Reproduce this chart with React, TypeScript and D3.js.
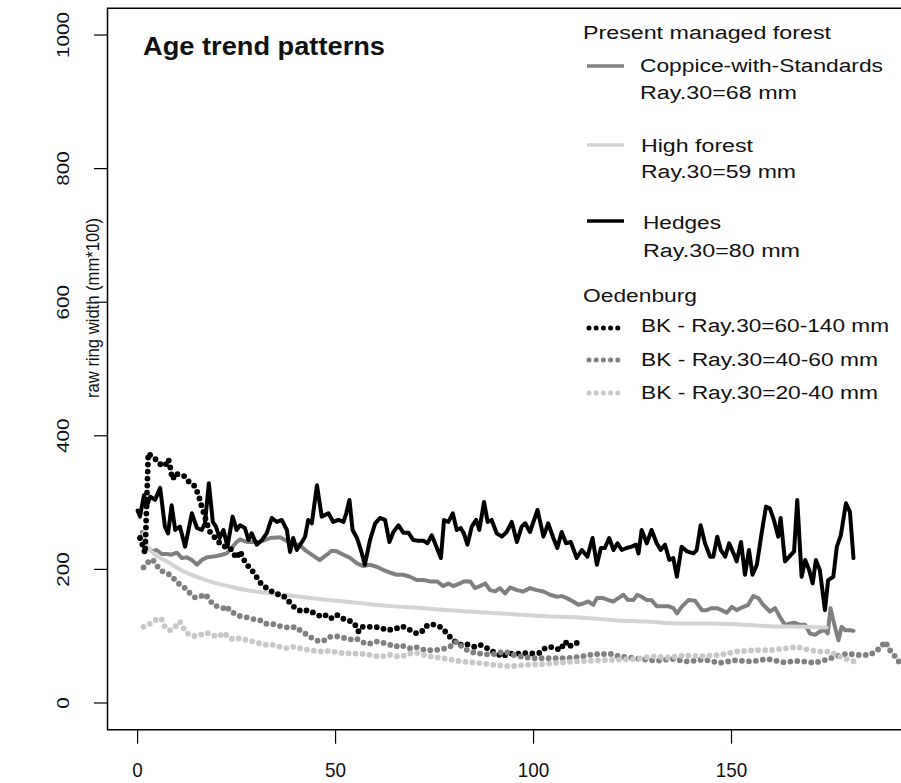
import * as d3 from 'd3'

const WIDTH = 901
const HEIGHT = 783
const PLOT = { left: 107.5, right: 920, top: 8.3, bottom: 729.7 }
const FONT = '"Liberation Sans", Arial, sans-serif'

const xTicks = [0, 50, 100, 150]
const yTicks = [0, 200, 400, 600, 800, 1000]

// present managed forest, [age, raw ring width]
const coppicePts = [
  [1.1, 256], [2.3, 234], [3.6, 227], [4.8, 229], [6.1, 223], [7.4, 223], [8.6, 222], [9.9, 225],
  [11.2, 217], [12.4, 218], [13.7, 214], [15, 207], [16.2, 214], [17.5, 218], [18.7, 219], [20, 220],
  [21.3, 222], [22.5, 224], [23.8, 232], [25, 241], [25.9, 245], [27.6, 241], [30.9, 241], [33.5, 247],
  [36, 248], [38.1, 241], [41, 236], [42.3, 229], [43.5, 224], [46, 214], [47.8, 222], [49, 228],
  [50.3, 227], [52, 222], [53.7, 217], [55.4, 209], [57, 205], [58.7, 207], [60.4, 204], [62.1, 199],
  [63.8, 195], [65.5, 192], [67.1, 192], [68.8, 189], [70.5, 184], [72.2, 184], [73.9, 182], [75.6, 182],
  [77.2, 175], [78.5, 179], [79.7, 175], [81.4, 179], [82.3, 182], [84, 182], [85.2, 172], [86.5, 175],
  [87.8, 179], [89, 169], [90.3, 167], [91.5, 172], [92.8, 164], [94.1, 173], [95.8, 169], [97.4, 167],
  [99.1, 172], [100.8, 169], [102.5, 167], [104.2, 162], [105.9, 159], [107.1, 160], [108.4, 157], [110, 152],
  [111.3, 147], [112.6, 149], [113.8, 152], [115.1, 147], [116, 157], [117.6, 157], [118.9, 154], [120.2, 152],
  [121.4, 157], [122.7, 162], [123.9, 154], [125.2, 154], [126.2, 162], [127.3, 159], [128.6, 154], [129.8, 154],
  [131.1, 145], [132.4, 145], [134, 145], [135.3, 142], [136.2, 134], [137.4, 144], [139.1, 154], [140.8, 153],
  [142.5, 139], [143.7, 139], [145, 142], [146.3, 142], [147.5, 139], [148.8, 135], [150.1, 144], [151.3, 139],
  [153, 144], [154.2, 147], [155.5, 160], [156.8, 157], [158, 147], [159.7, 137], [161, 142], [162.2, 129],
  [163.5, 117], [164.8, 119], [166, 120], [167.3, 117], [168.6, 117], [169.8, 104], [171.1, 102], [172.3, 107],
  [173.6, 109], [174.3, 104], [175, 142], [176.1, 114], [177, 94], [177.8, 114], [178.7, 109], [179.9, 109],
  [180.8, 108],
]

const highForestPts = [
  [1.5, 254], [2.3, 237], [4, 224], [7.4, 212], [11.6, 197], [15.8, 187], [20, 179], [24.2, 173],
  [28.4, 168], [32.6, 165], [36.8, 162], [41, 159], [46.9, 155], [55.4, 150], [63.8, 145], [72.2, 142],
  [80.6, 138], [89, 135], [94.9, 133], [103.3, 130], [111.7, 128], [120.2, 124], [128.6, 122], [137, 119],
  [142.9, 119], [151.3, 118], [159.7, 115], [168.1, 114], [174, 113],
]

const hedgesPts = [
  [0, 288], [0.6, 279], [1.6, 311], [2.3, 294], [3.2, 309], [4.4, 304], [5.7, 322], [6.9, 264],
  [7.7, 254], [8.6, 296], [9.5, 259], [10.7, 264], [12, 234], [13.7, 284], [15, 262], [16.2, 259],
  [17, 269], [18, 329], [19, 271], [19.8, 264], [20.7, 247], [21.7, 259], [22.7, 234], [24, 279],
  [25, 259], [25.9, 266], [27.1, 262], [28, 244], [28.8, 254], [30.1, 237], [31.4, 244], [32.6, 254],
  [33.9, 277], [35.2, 271], [36.4, 274], [37.7, 259], [38.5, 226], [39.3, 247], [40.2, 229], [41.5, 241],
  [42.3, 249], [43.1, 274], [44, 269], [45.3, 326], [46.5, 279], [48.2, 284], [49.4, 271], [50.7, 274],
  [52, 271], [52.7, 284], [53.5, 304], [54.3, 259], [55.4, 247], [56.4, 229], [57.4, 207], [58.7, 244],
  [60, 269], [61.2, 277], [62.5, 274], [63.6, 241], [64.6, 256], [65.9, 266], [67.1, 255], [68.4, 255],
  [69.6, 244], [70.9, 243], [72.2, 243], [73.2, 239], [74.3, 251], [75.6, 232], [76.6, 217], [77.4, 274],
  [78.5, 271], [79.6, 284], [80.6, 259], [81.6, 262], [82.4, 254], [83.3, 237], [84.4, 264], [85.5, 274],
  [86.3, 259], [87.5, 301], [88.4, 271], [89.4, 274], [90.7, 254], [92, 249], [93.2, 256], [94.5, 271],
  [95.8, 241], [97, 264], [97.9, 269], [99.1, 256], [101, 289], [102.5, 249], [103.7, 269], [105, 247],
  [106, 232], [107.1, 256], [108.2, 239], [109.4, 241], [110.9, 217], [112.2, 229], [113.6, 219], [114.9, 247],
  [116, 207], [117, 232], [118, 232], [119.1, 247], [120.2, 229], [121.2, 239], [122.3, 229], [123.5, 232],
  [124.8, 234], [125.9, 237], [126.5, 224], [127.3, 259], [128.6, 239], [129.8, 259], [131.1, 239], [132.1, 229],
  [133.2, 237], [134.3, 214], [135.3, 217], [136.2, 189], [137.4, 234], [138.7, 227], [140.4, 224], [141.2, 229],
  [142.2, 266], [143.3, 239], [144.6, 219], [145.4, 219], [146.4, 249], [147.3, 229], [148.4, 219], [149.4, 239],
  [150.5, 224], [151.3, 212], [152.4, 241], [153.4, 192], [154.4, 229], [155.3, 192], [156.4, 207], [157.6, 254],
  [158.7, 294], [159.7, 291], [160.7, 274], [161.8, 249], [162.4, 277], [163.5, 212], [164.6, 219], [165.8, 227],
  [166.6, 304], [167.7, 189], [168.6, 214], [169.6, 199], [170.5, 179], [171.3, 214], [172.3, 199], [173.6, 139],
  [174.4, 184], [175.7, 189], [176.6, 234], [177.6, 251], [178.9, 299], [179.9, 286], [180.8, 217],
]

// Oedenburg archaeological wood (BK)
const bk60Pts = [
  [0.6, 247], [1.1, 239], [1.9, 224], [2.7, 374], [3.6, 369], [4.4, 366], [5.3, 359], [6.1, 356],
  [6.9, 355], [7.8, 365], [8.2, 354], [8.6, 341], [8.9, 335], [9.5, 344], [10.7, 341], [11.7, 340],
  [12.8, 332], [13.7, 329], [14.5, 324], [15.4, 311], [16.2, 294], [17, 279], [17.5, 269], [18.3, 256],
  [19.6, 247], [20.8, 239], [22.1, 234], [23.4, 232], [24.2, 224], [25, 217], [25.9, 227], [26.6, 217],
  [27.6, 207], [28.6, 201], [29.7, 192], [30.5, 184], [31.4, 177], [32.6, 172], [33.9, 167], [35.2, 163],
  [36.4, 162], [37.5, 157], [38.5, 150], [39.8, 142], [41.5, 137], [43.1, 139], [44.8, 134], [46.5, 129],
  [47.8, 132], [49, 127], [50.3, 132], [51.6, 127], [52.8, 124], [54.1, 122], [55.4, 114], [55.8, 107],
  [56.6, 114], [58.3, 114], [60, 114], [61.7, 112], [62.9, 109], [64.2, 110], [65.5, 112], [66.7, 115],
  [68, 112], [69.2, 108], [70.5, 104], [71.8, 107], [72.6, 114], [73.9, 118], [75.1, 117], [76.4, 114],
  [77.7, 107], [78.9, 99], [80.2, 92], [81.4, 87], [82.7, 89], [84, 86], [85.2, 84], [86.5, 87],
  [87.8, 84], [89, 79], [90.7, 74], [92.4, 69], [93.2, 74], [94.9, 74], [96.6, 74], [98.3, 75],
  [100, 74], [101.6, 75], [102.9, 82], [104.2, 84], [105.7, 82], [106.7, 79], [108, 92], [109, 84],
  [110, 89], [111, 90],
]

const bk40Pts = [
  [1.5, 203], [2.7, 211], [3.8, 215], [4.7, 207], [5.7, 199], [6.9, 195], [8.2, 192], [9.5, 184],
  [10.7, 177], [12, 172], [13.3, 164], [14.5, 158], [15.8, 159], [17, 163], [17.9, 157], [19.1, 147],
  [20.4, 144], [21.7, 142], [22.5, 145], [23.4, 137], [24.6, 134], [25.9, 130], [27.1, 129], [28.4, 127],
  [29.7, 125], [30.9, 124], [32.2, 119], [33.5, 118], [34.7, 118], [36, 115], [37.2, 114], [38.5, 112],
  [39.8, 114], [41, 109], [42.3, 104], [43.5, 99], [44.8, 95], [46, 92], [47.3, 94], [48.6, 99],
  [49.8, 100], [51.1, 99], [52.4, 97], [53.7, 95], [54.9, 97], [56.2, 94], [57.4, 89], [58.7, 89],
  [60, 92], [61.2, 92], [62.5, 89], [63.8, 87], [65, 84], [66.3, 87], [67.6, 84], [68.8, 82],
  [70.1, 84], [71.3, 82], [72.6, 79], [73.9, 79], [75.1, 79], [78.1, 82], [79.7, 87], [80.6, 92],
  [82.3, 82], [84, 77], [85.7, 74], [87.3, 74], [89, 72], [92.8, 77], [94.9, 72], [97.4, 69],
  [99.9, 67], [102.5, 67], [108.4, 67], [111.7, 69], [114.3, 72], [115.5, 74], [116.8, 72], [118.5, 74],
  [120.2, 73], [121.8, 69], [123.5, 69], [127, 66], [131, 63], [135, 66], [139, 62], [143, 65],
  [147, 60], [151, 64], [155, 62], [159, 66], [163, 61], [167, 63], [171, 60], [174, 65],
  [176.6, 70], [179.1, 74], [181.6, 72], [185, 72], [187.5, 82], [188.8, 92], [190, 79], [191.7, 67],
  [193, 55],
]

const bk20Pts = [
  [1.5, 114], [2.7, 117], [4, 122], [5.3, 127], [6.1, 125], [6.9, 114], [8.2, 109], [9.5, 114],
  [10.7, 122], [11.6, 112], [12.8, 103], [14.1, 100], [15.8, 102], [17.5, 105], [18.7, 102], [20.4, 99],
  [21.7, 105], [22.9, 99], [24.2, 95], [25.9, 97], [27.6, 94], [29.2, 92], [30.9, 89], [32.6, 87],
  [34.3, 87], [36, 84], [37.7, 82], [39.3, 84], [41, 82], [43.6, 79], [46.1, 77], [48.6, 78],
  [51.1, 75], [53.7, 74], [56.2, 74], [58.7, 72], [61.2, 69], [63.8, 72], [66.3, 69], [68.8, 74],
  [70.5, 75], [72.2, 72], [74.7, 69], [77.2, 67], [82, 62], [86, 60], [90, 57], [94, 55],
  [98, 57], [102, 58], [106, 60], [110, 62], [114, 63], [118, 64], [122, 65], [126, 66],
  [130, 70], [134, 68], [138, 71], [143, 70], [147.1, 72], [151.3, 77], [155.5, 79], [159.7, 79],
  [163.9, 82], [166.5, 84], [169.8, 79], [172.3, 77], [174.8, 77], [178, 68], [181, 62],
]

const GREY = '#808080'
const LIGHT = '#d3d3d3'
const DOT_LIGHT = '#c8c8c8'

const lineSeries = [
  { name: 'coppice', pts: coppicePts, color: GREY },
  { name: 'high', pts: highForestPts, color: LIGHT },
  { name: 'hedges', pts: hedgesPts, color: '#000000' },
]
const dotSeries = [
  { name: 'bk60', pts: bk60Pts, color: '#000000' },
  { name: 'bk40', pts: bk40Pts, color: GREY },
  { name: 'bk20', pts: bk20Pts, color: DOT_LIGHT },
]

// legend rows: text, x, baseline, textLength
const legendHeads = [
  { t: 'Present managed forest', x: 583, y: 39, w: 248 },
  { t: 'Oedenburg', x: 583, y: 302, w: 114 },
]
const legendLines = [
  { color: GREY, y: 66, dotted: false },
  { color: LIGHT, y: 145, dotted: false },
  { color: '#000000', y: 221, dotted: false },
  { color: '#000000', y: 328, dotted: true },
  { color: GREY, y: 360, dotted: true },
  { color: DOT_LIGHT, y: 393, dotted: true },
]
const legendTexts = [
  { t: 'Coppice-with-Standards', x: 640, y: 72, w: 243 },
  { t: 'Ray.30=68 mm', x: 640, y: 99, w: 157 },
  { t: 'High forest', x: 641, y: 152, w: 112 },
  { t: 'Ray.30=59 mm', x: 641, y: 178, w: 155 },
  { t: 'Hedges', x: 643, y: 229, w: 78 },
  { t: 'Ray.30=80 mm', x: 643, y: 257, w: 157 },
  { t: 'BK - Ray.30=60-140 mm', x: 641, y: 332, w: 248 },
  { t: 'BK - Ray.30=40-60 mm', x: 641, y: 366, w: 237 },
  { t: 'BK - Ray.30=20-40 mm', x: 641, y: 399, w: 237 },
]

export default function App() {
  const x = d3.scaleLinear().domain([-7.6, 197.6]).range([PLOT.left, PLOT.right])
  const y = d3.scaleLinear().domain([-40, 1040]).range([PLOT.bottom, PLOT.top])

  const line = d3
    .line<number[]>()
    .x((d) => x(d[0]))
    .y((d) => y(d[1]))
  const smooth = d3
    .line<number[]>()
    .x((d) => x(d[0]))
    .y((d) => y(d[1]))
    .curve(d3.curveMonotoneX)

  return (
    <svg
      width={WIDTH}
      height={HEIGHT}
      style={{ position: 'absolute', left: 0, top: 0, background: '#fff' }}
      fontFamily={FONT}
      fill="#111"
    >
      <defs>
        <clipPath id="plot-clip">
          <rect x={PLOT.left} y={PLOT.top} width={PLOT.right - PLOT.left} height={PLOT.bottom - PLOT.top} />
        </clipPath>
      </defs>

      <g clipPath="url(#plot-clip)" fill="none" strokeLinejoin="round" strokeLinecap="round">
        {lineSeries.map((s) => (
          <path
            key={s.name}
            d={(s.name === 'high' ? smooth : line)(s.pts) ?? ''}
            stroke={s.color}
            strokeWidth={4}
          />
        ))}
        {dotSeries.map((s) => (
          <path
            key={s.name}
            d={line(s.pts) ?? ''}
            stroke={s.color}
            strokeWidth={5.8}
            strokeDasharray="0 7"
          />
        ))}
      </g>

      {/* box, right edge is off the picture */}
      <path
        d={`M${WIDTH + 5},${PLOT.top}H${PLOT.left}V${PLOT.bottom}H${WIDTH + 5}`}
        fill="none"
        stroke="#000"
        strokeWidth={1.5}
      />

      {/* x axis */}
      {xTicks.map((t) => (
        <g key={t} transform={`translate(${x(t)},0)`}>
          <line y1={PLOT.bottom} y2={PLOT.bottom + 14} stroke="#000" strokeWidth={1.2} />
          <text
            y={777}
            textAnchor="middle"
            fontSize={21}
            textLength={10.5 * String(t).length}
            lengthAdjust="spacingAndGlyphs"
          >
            {t}
          </text>
        </g>
      ))}

      {/* y axis */}
      {yTicks.map((t) => (
        <g key={t}>
          <line x1={PLOT.left - 13.5} x2={PLOT.left} y1={y(t)} y2={y(t)} stroke="#000" strokeWidth={1.2} />
          <text
            transform={`translate(69,${y(t)}) rotate(-90)`}
            textAnchor="middle"
            fontSize={17}
            textLength={11.5 * String(t).length}
            lengthAdjust="spacingAndGlyphs"
          >
            {t}
          </text>
        </g>
      ))}
      <text
        transform={`translate(99,308) rotate(-90)`}
        textAnchor="middle"
        fontSize={18}
        textLength={180}
        lengthAdjust="spacingAndGlyphs"
      >
        raw ring width (mm*100)
      </text>

      <text x={143} y={55} fontSize={26} fontWeight="bold" textLength={242} lengthAdjust="spacingAndGlyphs">
        Age trend patterns
      </text>

      {/* legend */}
      {legendHeads.map((l) => (
        <text key={l.t} x={l.x} y={l.y} fontSize={18} textLength={l.w} lengthAdjust="spacingAndGlyphs">
          {l.t}
        </text>
      ))}
      {legendLines.map((l, i) => (
        <line
          key={i}
          x1={l.dotted ? 589 : 587}
          x2={l.dotted ? 618 : 624}
          y1={l.y}
          y2={l.y}
          stroke={l.color}
          strokeWidth={l.dotted ? 5 : 3.5}
          strokeLinecap={l.dotted ? 'round' : 'butt'}
          strokeDasharray={l.dotted ? '0 7.2' : undefined}
        />
      ))}
      {legendTexts.map((l) => (
        <text key={l.t} x={l.x} y={l.y} fontSize={18} textLength={l.w} lengthAdjust="spacingAndGlyphs">
          {l.t}
        </text>
      ))}
    </svg>
  )
}
